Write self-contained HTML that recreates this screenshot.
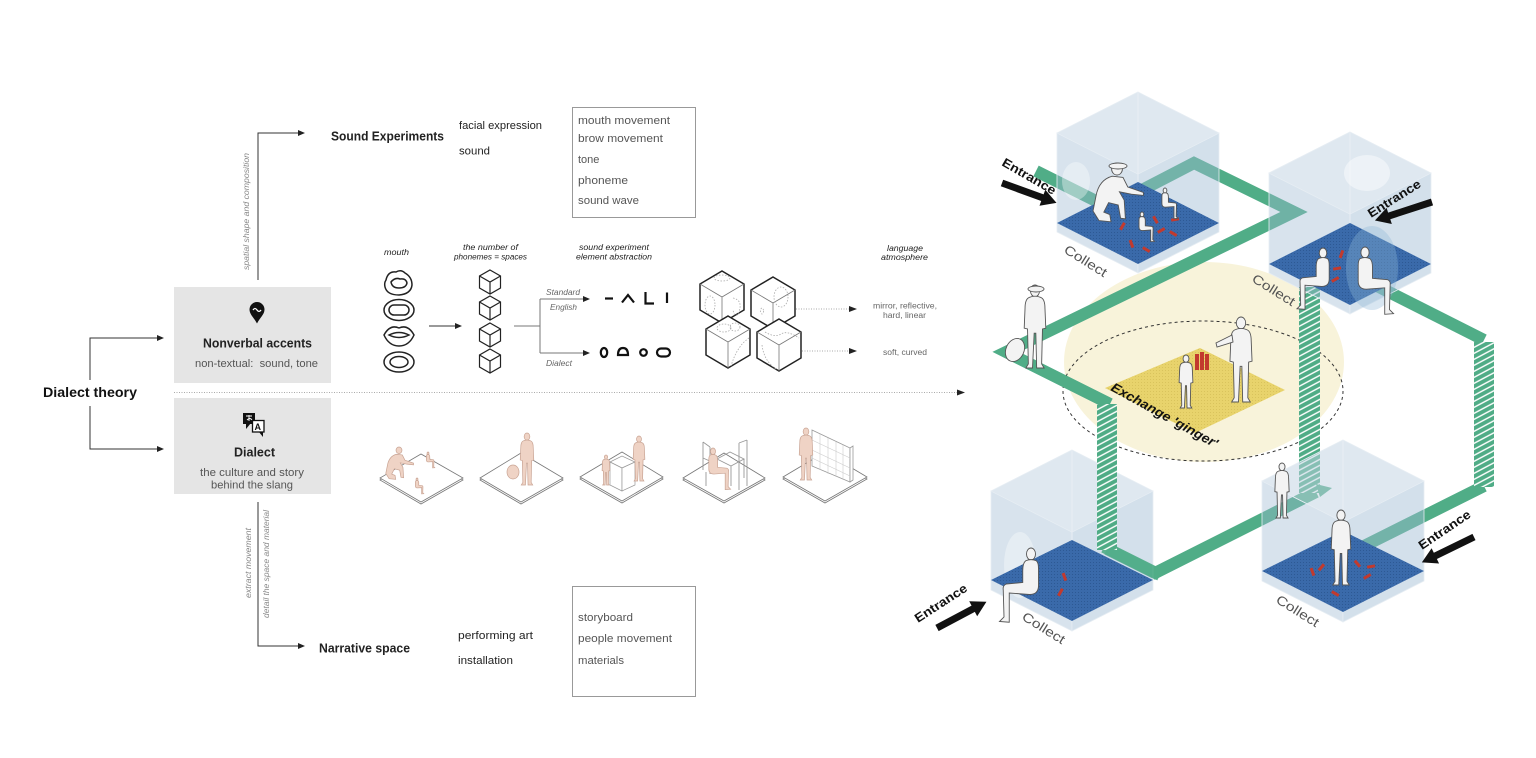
<!DOCTYPE html>
<html><head><meta charset="utf-8">
<style>
html,body{margin:0;padding:0;background:#fff;width:1536px;height:758px;overflow:hidden;}
svg{display:block;}
text{font-family:"Liberation Sans",Arial,sans-serif;}
</style></head><body>
<svg xmlns="http://www.w3.org/2000/svg" xmlns:xlink="http://www.w3.org/1999/xlink" width="1536" height="758" viewBox="0 0 1536 758">
<defs>
<pattern id="dot" width="3" height="3" patternUnits="userSpaceOnUse"><rect width="3" height="3" fill="#3a6aaa"/><rect x="1" y="1" width="1" height="1" fill="#2d5994"/></pattern>
<pattern id="ydot" width="3" height="3" patternUnits="userSpaceOnUse"><rect width="3" height="3" fill="#e8d36c"/><rect x="1" y="1" width="1" height="1" fill="#d9c35c"/></pattern>
<pattern id="str" width="24" height="6" patternUnits="userSpaceOnUse" patternTransform="skewY(-28)"><rect width="24" height="6" fill="#4fac86"/><rect y="2.3" width="24" height="1.6" fill="#ffffff"/></pattern>
<g id="fs">
<ellipse vector-effect="non-scaling-stroke" cx="0" cy="7" rx="5.5" ry="7"/>
<path vector-effect="non-scaling-stroke" d="M-7,15 Q0,12 7,15 Q12,17 12,28 L13,52 L9,53 L8,95 L11,100 L2,100 L1,58 L-1,58 L-3,100 L-11,100 L-8,95 L-9,53 L-13,52 L-12,28 Q-12,17 -7,15 Z"/>
</g>
<g id="fsit">
<ellipse vector-effect="non-scaling-stroke" cx="0" cy="8" rx="6" ry="8"/>
<path vector-effect="non-scaling-stroke" d="M-7,17 Q0,14 7,17 Q11,20 11,30 L11,46 L33,48 Q38,50 37,56 L36,92 L42,98 L29,99 L29,60 L2,62 Q-10,62 -10,50 L-10,28 Q-10,19 -7,17 Z"/>
</g>
<g id="fcr">
<ellipse vector-effect="non-scaling-stroke" cx="0" cy="10" rx="9" ry="10"/>
<path vector-effect="non-scaling-stroke" d="M-8,22 Q-30,28 -35,55 L-40,80 L-30,96 L-10,98 L-12,86 L-22,82 L-14,66 L2,70 L6,92 L14,93 L12,62 L4,48 L24,52 L44,54 L44,49 L18,40 L10,24 Z"/>
</g>
</defs>

<!-- ================= LEFT DIAGRAM ================= -->
<g fill="none" stroke="#333" stroke-width="1">
<path d="M90,380 V338 H158"/>
<path d="M90,406 V449 H158"/>
<path d="M258,280 V133 H299"/>
<path d="M258,502 V646 H299"/>
</g>
<g fill="#222">
<polygon points="157,335 164,338 157,341"/>
<polygon points="157,446 164,449 157,452"/>
<polygon points="298,130 305,133 298,136"/>
<polygon points="298,643 305,646 298,649"/>
</g>

<text x="43" y="397" font-size="14" font-weight="bold" fill="#111" textLength="94" lengthAdjust="spacingAndGlyphs">Dialect theory</text>

<rect x="174" y="287" width="157" height="96" fill="#e5e5e5"/>
<rect x="174" y="398" width="157" height="96" fill="#e5e5e5"/>

<path d="M257,302 a7.5,7.5 0 0 1 7.5,7.5 c0,5 -4.5,8 -7.5,14 c-3,-6 -7.5,-9 -7.5,-14 a7.5,7.5 0 0 1 7.5,-7.5 z" fill="#111"/>
<path d="M253,310 q2,-3 4,0 t4,0" stroke="#fff" stroke-width="1.3" fill="none"/>
<rect x="243" y="413" width="12" height="11" fill="#111"/>
<polygon points="246,423 251,423 246,429" fill="#111"/>
<path d="M246,416 h6 M249,415 v6 M247,420 q3,-3 5,0" stroke="#fff" stroke-width="0.9" fill="none"/>
<rect x="252.5" y="420.5" width="11.5" height="11.5" fill="#fff" stroke="#111" stroke-width="1.3"/>
<polygon points="259,432 263,432 263,437" fill="#111"/>
<text x="254.5" y="430" font-size="9" font-weight="bold" fill="#111">A</text>

<text x="203" y="347.5" font-size="12.5" font-weight="bold" fill="#222" textLength="109" lengthAdjust="spacingAndGlyphs">Nonverbal accents</text>
<text x="195" y="367" font-size="11" fill="#555" textLength="123" lengthAdjust="spacingAndGlyphs">non-textual:&#160; sound, tone</text>
<text x="234" y="456.5" font-size="12.5" font-weight="bold" fill="#222" textLength="41" lengthAdjust="spacingAndGlyphs">Dialect</text>
<text x="200" y="476" font-size="11" fill="#555" textLength="104" lengthAdjust="spacingAndGlyphs">the culture and story</text>
<text x="211" y="488.5" font-size="11" fill="#555" textLength="82" lengthAdjust="spacingAndGlyphs">behind the slang</text>

<text transform="translate(249,270) rotate(-90)" font-size="8.5" font-style="italic" fill="#888" textLength="117" lengthAdjust="spacingAndGlyphs">spatial shape and composition</text>
<text transform="translate(251,598) rotate(-90)" font-size="8.5" font-style="italic" fill="#888" textLength="70" lengthAdjust="spacingAndGlyphs">extract movement</text>
<text transform="translate(269,618) rotate(-90)" font-size="8.5" font-style="italic" fill="#888" textLength="108" lengthAdjust="spacingAndGlyphs">detail the space and material</text>

<text x="331" y="140.5" font-size="12.5" font-weight="bold" fill="#222" textLength="113" lengthAdjust="spacingAndGlyphs">Sound Experiments</text>
<text x="459" y="129" font-size="11" fill="#222" textLength="83" lengthAdjust="spacingAndGlyphs">facial expression</text>
<text x="459" y="154.5" font-size="11" fill="#222" textLength="31" lengthAdjust="spacingAndGlyphs">sound</text>
<rect x="572.5" y="107.5" width="123" height="110" fill="#fff" stroke="#999" stroke-width="1"/>
<g font-size="11" fill="#555">
<text x="578" y="124" textLength="92" lengthAdjust="spacingAndGlyphs">mouth movement</text>
<text x="578" y="142" textLength="85" lengthAdjust="spacingAndGlyphs">brow movement</text>
<text x="578" y="163">tone</text>
<text x="578" y="184" textLength="50" lengthAdjust="spacingAndGlyphs">phoneme</text>
<text x="578" y="204" textLength="61" lengthAdjust="spacingAndGlyphs">sound wave</text>
</g>

<text x="319" y="652.5" font-size="12.5" font-weight="bold" fill="#222" textLength="91" lengthAdjust="spacingAndGlyphs">Narrative space</text>
<text x="458" y="639" font-size="11" fill="#222" textLength="75" lengthAdjust="spacingAndGlyphs">performing art</text>
<text x="458" y="664" font-size="11" fill="#222" textLength="55" lengthAdjust="spacingAndGlyphs">installation</text>
<rect x="572.5" y="586.5" width="123" height="110" fill="#fff" stroke="#999" stroke-width="1"/>
<g font-size="11" fill="#555">
<text x="578" y="621" textLength="55" lengthAdjust="spacingAndGlyphs">storyboard</text>
<text x="578" y="642" textLength="94" lengthAdjust="spacingAndGlyphs">people movement</text>
<text x="578" y="664" textLength="46" lengthAdjust="spacingAndGlyphs">materials</text>
</g>

<line x1="174" y1="392.5" x2="958" y2="392.5" stroke="#aaa" stroke-width="1" stroke-dasharray="1,1.5"/>
<polygon points="957,389.5 965,392.5 957,395.5" fill="#222"/>

<g font-size="8" font-style="italic" fill="#222">
<text x="384" y="255" textLength="25" lengthAdjust="spacingAndGlyphs">mouth</text>
<text x="463" y="250" textLength="55" lengthAdjust="spacingAndGlyphs">the number of</text>
<text x="454" y="259.5" textLength="73" lengthAdjust="spacingAndGlyphs">phonemes = spaces</text>
<text x="579" y="250" textLength="70" lengthAdjust="spacingAndGlyphs">sound experiment</text>
<text x="576" y="259.5" textLength="76" lengthAdjust="spacingAndGlyphs">element abstraction</text>
<text x="887" y="251" textLength="36" lengthAdjust="spacingAndGlyphs">language</text>
<text x="881" y="260" textLength="47" lengthAdjust="spacingAndGlyphs">atmosphere</text>
</g>
<g font-size="8" font-style="italic" fill="#666">
<text x="546" y="295" textLength="34" lengthAdjust="spacingAndGlyphs">Standard</text>
<text x="550" y="310" textLength="27" lengthAdjust="spacingAndGlyphs">English</text>
<text x="546" y="366" textLength="26" lengthAdjust="spacingAndGlyphs">Dialect</text>
</g>
<g font-size="8" fill="#666">
<text x="873" y="308.5" textLength="64" lengthAdjust="spacingAndGlyphs">mirror, reflective,</text>
<text x="883" y="318" textLength="43" lengthAdjust="spacingAndGlyphs">hard, linear</text>
<text x="883" y="355" textLength="44" lengthAdjust="spacingAndGlyphs">soft, curved</text>
</g>

<g fill="none" stroke="#222" stroke-width="1.5">
<path d="M386,280 q2,-9 10,-8 q5,-3 9,1 q7,4 7,12 q-1,9 -13,10 q-12,0 -14,-8 q-1,-4 1,-7z"/>
<path d="M391,282 q4,-5 9,-3 q6,-1 7,4 q-1,5 -8,5 q-7,0 -8,-6z"/>
<ellipse cx="399" cy="310" rx="15" ry="10.5"/>
<rect x="389" y="305" width="20" height="10" rx="5"/>
<path d="M384,335 q6,-11 15,-7 q9,-4 15,7 q-5,11 -15,11 q-10,0 -15,-11z"/>
<path d="M389,335 q10,-5 20,0 q-10,5 -20,0z"/>
<ellipse cx="399" cy="362" rx="15" ry="10"/>
<ellipse cx="399" cy="362" rx="9" ry="5.5"/>
</g>
<line x1="429" y1="326" x2="456" y2="326" stroke="#333" stroke-width="1"/>
<polygon points="455,323 462,326 455,329" fill="#222"/>

<g fill="#fff" stroke="#222" stroke-width="1.2">
<path d="M490,270 l10.5,6 v12 l-10.5,6 l-10.5,-6 v-12z M479.5,276 l10.5,6 l10.5,-6 M490,282 v12"/>
<path d="M490,296 l10.5,6 v12 l-10.5,6 l-10.5,-6 v-12z M479.5,302 l10.5,6 l10.5,-6 M490,308 v12"/>
<path d="M490,323 l10.5,6 v12 l-10.5,6 l-10.5,-6 v-12z M479.5,329 l10.5,6 l10.5,-6 M490,335 v12"/>
<path d="M490,349 l10.5,6 v12 l-10.5,6 l-10.5,-6 v-12z M479.5,355 l10.5,6 l10.5,-6 M490,361 v12"/>
</g>
<g fill="none" stroke="#777" stroke-width="1">
<path d="M514,326 H540 M540,299 V353 M540,299 H584 M540,353 H584"/>
</g>
<polygon points="583,296 590,299 583,302" fill="#222"/>
<polygon points="583,350 590,353 583,356" fill="#222"/>

<g fill="none" stroke="#111" stroke-width="2.2">
<path d="M605,298.5 H613"/>
<path d="M622,302.5 L628,295 L634,302.5"/>
<path d="M645.5,292 V303.5 H654"/>
<path d="M667,292.5 V303"/>
<ellipse cx="604" cy="352.5" rx="3.2" ry="4.5"/>
<path d="M618,355 q0,-7 5,-7 q5,0 5,7 z"/>
<circle cx="643.5" cy="352.5" r="3.3"/>
<rect x="657" y="348.5" width="13" height="8" rx="4"/>
</g>

<g stroke="#222" stroke-width="1.5" fill="#fff">
<path d="M722,271 l22,13 v26 l-22,13 l-22,-13 v-26z"/>
<path d="M773,277 l22,13 v26 l-22,13 l-22,-13 v-26z"/>
</g>
<g stroke="#777" stroke-width="0.8" fill="none">
<path d="M700,284 l22,13 l22,-13 M722,297 v26"/>
<path d="M751,290 l22,13 l22,-13 M773,303 v26"/>
</g>
<g stroke="#aaa" stroke-width="0.8" fill="none" stroke-dasharray="1.5,1.5">
<ellipse cx="722" cy="278" rx="8" ry="3"/>
<ellipse cx="710" cy="305" rx="5" ry="9"/>
<path d="M733,298 q10,2 6,14 q-4,8 -6,-2"/>
<ellipse cx="781" cy="297" rx="7" ry="10"/>
<ellipse cx="762" cy="311" rx="1.5" ry="3"/>
</g>
<g stroke="#222" stroke-width="1.5" fill="#fff">
<path d="M728,316 l22,13 v26 l-22,13 l-22,-13 v-26z"/>
<path d="M779,319 l22,13 v26 l-22,13 l-22,-13 v-26z"/>
</g>
<g stroke="#777" stroke-width="0.8" fill="none">
<path d="M706,329 l22,13 l22,-13 M728,342 v26"/>
<path d="M757,332 l22,13 l22,-13 M779,345 v26"/>
</g>
<g stroke="#aaa" stroke-width="0.8" fill="none" stroke-dasharray="1.5,1.5">
<ellipse cx="724" cy="328" rx="7" ry="4"/>
<ellipse cx="735" cy="327" rx="5" ry="4"/>
<path d="M749,338 q-12,8 -18,28"/>
<path d="M765,332 q10,6 16,2 q6,-4 18,4"/>
<path d="M762,345 q2,16 14,24"/>
</g>
<g stroke="#aaa" stroke-width="1" stroke-dasharray="1,1.5">
<line x1="796" y1="309" x2="850" y2="309"/>
<line x1="802" y1="351" x2="850" y2="351"/>
</g>
<polygon points="849,306 857,309 849,312" fill="#222"/>
<polygon points="849,348 857,351 849,354" fill="#222"/>

<g fill="#fff" stroke="#777" stroke-width="0.8">
<polygon points="380,480 421,456 463,480 421,504"/>
<polygon points="380,478 421,454 463,478 421,502"/>
<polygon points="480,480 521,455 563,480 521,504"/>
<polygon points="480,478 521,453 563,478 521,502"/>
<polygon points="580,479 622,454 663,479 622,503"/>
<polygon points="580,477 622,452 663,477 622,501"/>
<polygon points="683,480 724,455 765,480 724,503"/>
<polygon points="683,478 724,453 765,478 724,501"/>
<polygon points="783,479 825,454 867,479 825,503"/>
<polygon points="783,477 825,452 867,477 825,501"/>
</g>
<g fill="#efd3c5" stroke="#c9a494" stroke-width="0.7">
<use xlink:href="#fcr" href="#fcr" transform="translate(399,447) scale(0.33)"/>
<use xlink:href="#fsit" href="#fsit" transform="translate(428,452) scale(0.16)"/>
<use xlink:href="#fsit" href="#fsit" transform="translate(417,478) scale(0.16)"/>
<use xlink:href="#fs" href="#fs" transform="translate(527,433) scale(0.52)"/>
<ellipse cx="513" cy="472" rx="6" ry="7"/>
</g>
<g fill="#fff" stroke="#999" stroke-width="0.7">
<polygon points="610,462 622,456 635,462 622,468"/>
<polygon points="610,462 622,468 622,491 610,485"/>
<polygon points="622,468 635,462 635,485 622,491"/>
</g>
<g fill="#efd3c5" stroke="#c9a494" stroke-width="0.7">
<use xlink:href="#fs" href="#fs" transform="translate(606,455) scale(0.3)"/>
<use xlink:href="#fs" href="#fs" transform="translate(639,436) scale(0.45)"/>
</g>
<g fill="none" stroke="#999" stroke-width="0.9">
<path d="M703,442 V470 M710,447 V474 M703,442 L710,447 M703,458 L712,462 M706,472 V486"/>
<path d="M717,459 L730,452 L744,459 L731,466 Z M731,466 V486 M744,459 V478"/>
<path d="M739,443 V470 M747,440 V466 M739,443 L747,440 M739,470 V490 M747,466 V486"/>
</g>
<g fill="#efd3c5" stroke="#c9a494" stroke-width="0.7">
<use xlink:href="#fsit" href="#fsit" transform="translate(713,448) scale(0.42)"/>
</g>
<g fill="#fff" stroke="#999" stroke-width="0.8">
<polygon points="812,430 850,448 850,482 812,466"/>
<polygon points="850,448 853,446 853,480 850,482"/>
</g>
<g stroke="#ccc" stroke-width="0.6">
<path d="M812,440 L850,458 M812,450 L850,468 M812,458 L850,476 M820,434 V470 M828,438 V474 M836,442 V477 M843,445 V480"/>
</g>
<g fill="#efd3c5" stroke="#c9a494" stroke-width="0.7">
<use xlink:href="#fs" href="#fs" transform="translate(806,428) scale(0.52)"/>
</g>

<!-- ================= RIGHT ILLUSTRATION ================= -->
<ellipse cx="1204" cy="362" rx="140" ry="100" fill="#f8f3da"/>
<ellipse cx="1203" cy="391" rx="140" ry="70" fill="none" stroke="#333" stroke-width="1" stroke-dasharray="3,3"/>
<polygon points="1105,388 1200,348 1285,390 1195,433" fill="url(#ydot)"/>

<g fill="none" stroke="#50ad87" stroke-width="12" stroke-linejoin="miter" stroke-miterlimit="10">
<path d="M1036,171 L1110,208"/>
<path d="M1140,191 L1194,163 L1294,212 L1006,352 L1110,404"/>
<path d="M1107,549 L1155,573 L1316,492"/>
<path d="M1375,285 L1484,340"/>
<path d="M1484,486 L1362,547"/>
</g>
<rect x="1299" y="287" width="21" height="206" fill="url(#str)"/>
<rect x="1474" y="342" width="20" height="145" fill="url(#str)"/>
<polygon points="1316,484 1332,488 1320,497" fill="#50ad87"/>

<g stroke="#e6edf3" stroke-width="0.8">
<polygon points="1057,133 1138,174 1138,273 1057,232" fill="#9dbad3" fill-opacity="0.4"/>
<polygon points="1138,174 1219,133 1219,232 1138,273" fill="#9dbad3" fill-opacity="0.45"/>
<polygon points="1138,92 1219,133 1138,174 1057,133" fill="#c0d2e2" fill-opacity="0.5"/>
<polygon points="1269,173 1350,214 1350,314 1269,273" fill="#9dbad3" fill-opacity="0.4"/>
<polygon points="1350,214 1431,173 1431,273 1350,314" fill="#9dbad3" fill-opacity="0.45"/>
<polygon points="1350,132 1431,173 1350,214 1269,173" fill="#c0d2e2" fill-opacity="0.5"/>
<polygon points="991,491 1072,532 1072,631 991,590" fill="#9dbad3" fill-opacity="0.4"/>
<polygon points="1072,532 1153,491 1153,590 1072,631" fill="#9dbad3" fill-opacity="0.45"/>
<polygon points="1072,450 1153,491 1072,532 991,491" fill="#c0d2e2" fill-opacity="0.5"/>
<polygon points="1262,481 1343,522 1343,622 1262,581" fill="#9dbad3" fill-opacity="0.4"/>
<polygon points="1343,522 1424,481 1424,581 1343,622" fill="#9dbad3" fill-opacity="0.45"/>
<polygon points="1343,440 1424,481 1343,522 1262,481" fill="#c0d2e2" fill-opacity="0.5"/>
</g>
<g stroke="#e9eff5" stroke-width="1" opacity="0.9">
<line x1="1138" y1="92" x2="1138" y2="182"/>
<line x1="1350" y1="132" x2="1350" y2="223"/>
<line x1="1072" y1="450" x2="1072" y2="540"/>
<line x1="1343" y1="440" x2="1343" y2="531"/>
</g>
<ellipse cx="1076" cy="181" rx="14" ry="19" fill="#fff" opacity="0.35"/>
<ellipse cx="1367" cy="173" rx="23" ry="18" fill="#fff" opacity="0.45"/>
<ellipse cx="1020" cy="565" rx="16" ry="33" fill="#fff" opacity="0.35"/>

<polygon points="1057,223 1138,182 1219,223 1138,264" fill="url(#dot)"/>
<polygon points="1269,264 1350,223 1431,264 1350,305" fill="url(#dot)"/>
<polygon points="991,580 1072,540 1153,580 1072,621" fill="url(#dot)"/>
<polygon points="1262,571 1343,531 1424,571 1343,612" fill="url(#dot)"/>
<ellipse cx="1372" cy="268" rx="26" ry="42" fill="#8fb6d8" opacity="0.35"/>

<path d="M1104,547 L1160,575" fill="none" stroke="#50ad87" stroke-width="12" opacity="0.9"/>
<rect x="1097" y="404" width="20" height="146" fill="url(#str)"/>

<g fill="#c23a2e">
<rect x="1121" y="222" width="3" height="8" transform="rotate(30 1122 226)"/>
<rect x="1130" y="240" width="3" height="8" transform="rotate(-20 1131 244)"/>
<rect x="1160" y="226" width="3" height="8" transform="rotate(60 1161 230)"/>
<rect x="1172" y="230" width="3" height="8" transform="rotate(-60 1173 234)"/>
<rect x="1145" y="246" width="3" height="8" transform="rotate(-60 1146 250)"/>
<rect x="1174" y="215" width="3" height="8" transform="rotate(80 1175 219)"/>
<rect x="1154" y="216" width="3" height="8" transform="rotate(-30 1155 220)"/>
<rect x="1340" y="250" width="3" height="8" transform="rotate(20 1341 254)"/>
<rect x="1336" y="264" width="3" height="8" transform="rotate(80 1337 268)"/>
<rect x="1334" y="275" width="3" height="8" transform="rotate(60 1335 279)"/>
<rect x="1063" y="573" width="3" height="8" transform="rotate(-20 1064 577)"/>
<rect x="1059" y="588" width="3" height="8" transform="rotate(30 1060 592)"/>
<rect x="1311" y="568" width="3" height="8" transform="rotate(-20 1312 572)"/>
<rect x="1320" y="563" width="3" height="8" transform="rotate(40 1321 567)"/>
<rect x="1356" y="560" width="3" height="8" transform="rotate(-40 1357 564)"/>
<rect x="1370" y="562" width="3" height="8" transform="rotate(80 1371 566)"/>
<rect x="1366" y="572" width="3" height="8" transform="rotate(60 1367 576)"/>
<rect x="1334" y="590" width="3" height="8" transform="rotate(-60 1335 594)"/>
<rect x="1195" y="354" width="4" height="16"/>
<rect x="1200" y="352" width="4" height="18"/>
<rect x="1205" y="354" width="4" height="16"/>
</g>

<g fill="#f3f3f3" stroke="#555" stroke-width="0.9">
<use xlink:href="#fcr" href="#fcr" transform="translate(1117,163) scale(0.6)"/>
<ellipse cx="1118" cy="166" rx="9" ry="3"/>
<use xlink:href="#fsit" href="#fsit" transform="translate(1165,188) scale(0.31)"/>
<use xlink:href="#fsit" href="#fsit" transform="translate(1142,212) scale(0.3)"/>
<use xlink:href="#fs" href="#fs" transform="translate(1035,285) scale(0.83)"/>
<ellipse cx="1036" cy="289" rx="8" ry="3"/>
<ellipse cx="1015" cy="350" rx="9" ry="12" transform="rotate(25 1015 350)"/>
<use xlink:href="#fsit" href="#fsit" transform="translate(1323,248) scale(-0.62,0.62)"/>
<use xlink:href="#fsit" href="#fsit" transform="translate(1365,247) scale(0.68)"/>
<use xlink:href="#fs" href="#fs" transform="translate(1241,317) scale(0.85)"/>
<path d="M1232,335 L1216,343 L1217,347 L1233,342 Z"/>
<use xlink:href="#fs" href="#fs" transform="translate(1186,355) scale(0.53)"/>
<use xlink:href="#fs" href="#fs" transform="translate(1282,463) scale(0.55)"/>
<use xlink:href="#fsit" href="#fsit" transform="translate(1031,548) scale(-0.75,0.75)"/>
<use xlink:href="#fs" href="#fs" transform="translate(1341,510) scale(0.75)"/>
</g>

<g font-size="13" fill="#555">
<text transform="translate(1063,252) rotate(32)" textLength="48" lengthAdjust="spacingAndGlyphs">Collect</text>
<text transform="translate(1251,281) rotate(32)" textLength="48" lengthAdjust="spacingAndGlyphs">Collect</text>
<text transform="translate(1021,619) rotate(32)" textLength="48" lengthAdjust="spacingAndGlyphs">Collect</text>
<text transform="translate(1275,602) rotate(32)" textLength="48" lengthAdjust="spacingAndGlyphs">Collect</text>
</g>

<text transform="translate(1110,390) rotate(29)" font-size="13" font-weight="bold" font-style="italic" fill="#111" textLength="120" lengthAdjust="spacingAndGlyphs">Exchange 'ginger'</text>

<g font-size="12.5" font-weight="bold" fill="#111">
<text transform="translate(1001,165) rotate(30)" textLength="60" lengthAdjust="spacingAndGlyphs">Entrance</text>
<text transform="translate(1371,218) rotate(-32)" textLength="60" lengthAdjust="spacingAndGlyphs">Entrance</text>
<text transform="translate(918,623) rotate(-33)" textLength="60" lengthAdjust="spacingAndGlyphs">Entrance</text>
<text transform="translate(1422,550) rotate(-34)" textLength="60" lengthAdjust="spacingAndGlyphs">Entrance</text>
</g>
<g fill="#111">
<polygon transform="translate(1002,183) rotate(20)" points="0,-3.5 43,-3.5 43,-8.5 58,0 43,8.5 43,3.5 0,3.5"/>
<polygon transform="translate(1432,202) rotate(162)" points="0,-3.5 45,-3.5 45,-8.5 60,0 45,8.5 45,3.5 0,3.5"/>
<polygon transform="translate(937,628) rotate(-28)" points="0,-3.5 41,-3.5 41,-8.5 56,0 41,8.5 41,3.5 0,3.5"/>
<polygon transform="translate(1474,537) rotate(154)" points="0,-3.5 43,-3.5 43,-8.5 58,0 43,8.5 43,3.5 0,3.5"/>
</g>
</svg>
</body></html>
